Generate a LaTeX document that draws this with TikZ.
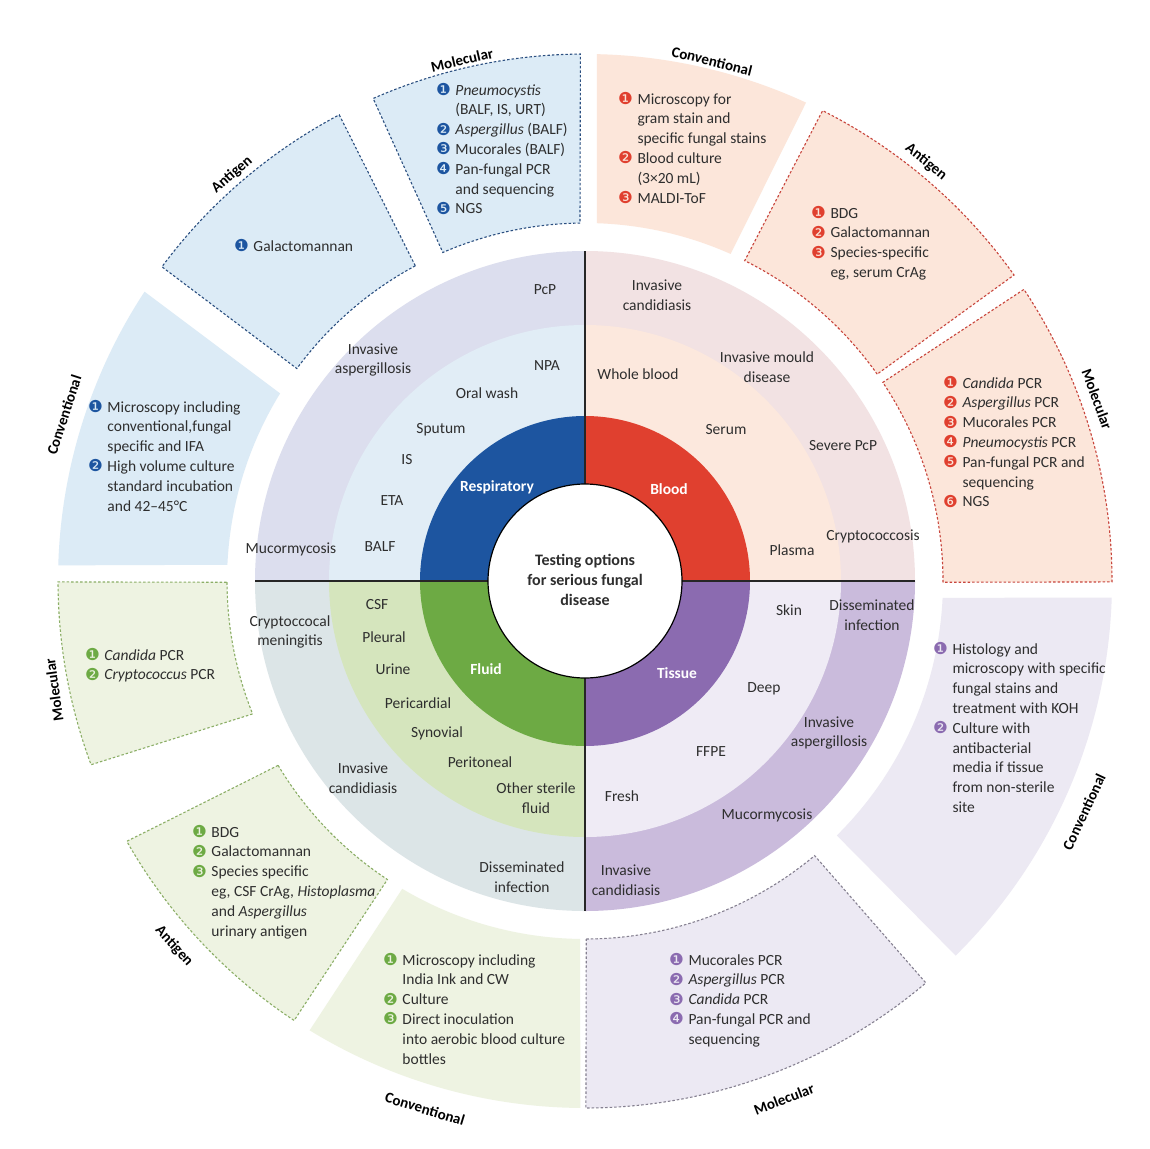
\documentclass[tikz,border=0pt]{standalone}
\usepackage{fontspec}
\setmainfont{Carlito}
\newfontfamily\dejavu{DejaVu Sans}
\definecolor{txt}{HTML}{2E2E2E}
\definecolor{bCore}{HTML}{1D55A0}\definecolor{bMid}{HTML}{E1EDF6}\definecolor{bOut}{HTML}{DCDEEE}\definecolor{bPan}{HTML}{DCEBF6}\definecolor{bDash}{HTML}{2B4F80}
\definecolor{rCore}{HTML}{E0402F}\definecolor{rMid}{HTML}{FCE8DD}\definecolor{rOut}{HTML}{F2E2E3}\definecolor{rPan}{HTML}{FCE6DA}\definecolor{rDash}{HTML}{C8453C}
\definecolor{gCore}{HTML}{6DAA44}\definecolor{gMid}{HTML}{D5E5BD}\definecolor{gOut}{HTML}{DCE5E7}\definecolor{gPan}{HTML}{EEF3E2}\definecolor{gDash}{HTML}{8BAE66}
\definecolor{pCore}{HTML}{8B6BB0}\definecolor{pMid}{HTML}{EFEBF5}\definecolor{pOut}{HTML}{CABBDC}\definecolor{pPan}{HTML}{ECE9F3}\definecolor{pDash}{HTML}{858090}
\newcommand\cn[2]{\textcolor{#1}{\dejavu\fontsize{16.5}{16.5}\selectfont\raisebox{-0.5pt}{#2}}}
\newcommand\pie[4]{\fill[#1] (0,0) -- (#2:#4) arc[start angle=#2, end angle=#3, radius=#4] -- cycle;}
\newcommand\sect[5]{\path[#1] (#2:358) arc[start angle=#2, end angle=#3, radius=358] -- (#5:527) arc[start angle=#5, end angle=#4, radius=527] -- cycle;}
\newcommand\lst[1]{\begin{tabular}[t]{@{}l@{\hspace{4.5pt}}l@{}}#1\end{tabular}}
\begin{document}
\begin{tikzpicture}[x=1pt,y=1pt,
  lbl/.style={font=\fontsize{15.5}{19.8}\selectfont, text=txt, align=center, inner sep=0},
  corelbl/.style={font=\bfseries\fontsize{15.5}{19.8}\selectfont, text=white, inner sep=0},
  ttl/.style={font=\bfseries\fontsize{15}{18}\selectfont, text=black, inner sep=0},
  lstn/.style={font=\fontsize{15.5}{19.8}\selectfont, text=txt, anchor=base west, inner sep=0},
  dashb/.style={draw=#1, line width=1.1pt, dash pattern=on 2.5pt off 2pt},
  divider/.style={draw=black!85, line width=1.6pt}]
\useasboundingbox (0,0) rectangle (1150,-1148);
\fill[white] (0,0) rectangle (1150,-1148);
\begin{scope}[shift={(585,-581)}]
  % outer panels
  \sect{fill=bPan, dashb=bDash}{90.8}{113.4}{90.5}{113.7}
  \sect{fill=bPan, dashb=bDash}{118.3}{143.6}{117.8}{143.4}
  \sect{fill=bPan}{148.4}{177.4}{146.7}{178.3}
  \sect{fill=gPan, dashb=gDash}{180.2}{201.8}{180.1}{200.4}
  \sect{fill=gPan, dashb=gDash}{211}{236.5}{209.6}{236.5}
  \sect{fill=gPan}{239.3}{269.2}{238.5}{269.5}
  \sect{fill=pPan, dashb=pDash}{270.2}{309.9}{270.1}{310.3}
  \sect{fill=pPan}{314.7}{357.3}{314.7}{358.2}
  \sect{fill=rPan, dashb=rDash}{-0.2}{33.7}{-0.1}{33.6}
  \sect{fill=rPan, dashb=rDash}{35.3}{63.5}{35.5}{63.2}
  \sect{fill=rPan}{66}{88.1}{65.2}{88.7}
  % rings
  \pie{bOut}{90}{180}{330}\pie{bMid}{90}{180}{256}\pie{bCore}{90}{180}{165}
  \pie{rOut}{0}{90}{330}\pie{rMid}{0}{90}{256}\pie{rCore}{0}{90}{165}
  \pie{gOut}{180}{270}{330}\pie{gMid}{180}{270}{256}\pie{gCore}{180}{270}{165}
  \pie{pOut}{270}{360}{330}\pie{pMid}{270}{360}{256}\pie{pCore}{270}{360}{165}
  \draw[divider] (0:97) -- (0:330);
  \draw[divider] (90:97) -- (90:330);
  \draw[divider] (180:97) -- (180:330);
  \draw[divider] (270:97) -- (270:330);
  \node[circle, fill=white, draw=black, line width=1.2pt, minimum size=194pt, inner sep=0] (hub) at (0,0) {};
\end{scope}
\node[font=\bfseries\fontsize{16}{20}\selectfont, text=txt, align=center, inner sep=0] (ctr) at (585,-580) {Testing options\\for serious fungal\\disease};
% core labels
\node[corelbl] (cR) at (497,-487) {Respiratory};
\node[corelbl] (cB) at (669,-489) {Blood};
\node[corelbl] (cF) at (486,-669) {Fluid};
\node[corelbl] (cT) at (677,-673) {Tissue};
% blue ring labels
\node[lbl] (b1) at (545,-290) {PcP};
\node[lbl] (b2) at (373,-360) {Invasive\\aspergillosis};
\node[lbl] (b3) at (547,-366) {NPA};
\node[lbl] (b4) at (487,-393) {Oral wash};
\node[lbl] (b5) at (441,-430) {Sputum};
\node[lbl] (b6) at (407,-460) {IS};
\node[lbl] (b7) at (392,-501) {ETA};
\node[lbl] (b8) at (291,-549) {Mucormycosis};
\node[lbl] (b9) at (380,-547) {BALF};
% red ring labels
\node[lbl] (r1) at (657,-295) {Invasive\\candidiasis};
\node[lbl] (r2) at (638,-374) {Whole blood};
\node[lbl] (r3) at (767,-367) {Invasive mould\\disease};
\node[lbl] (r4) at (726,-430) {Serum};
\node[lbl] (r5) at (843,-446) {Severe PcP};
\node[lbl] (r6) at (873,-536) {Cryptococcosis};
\node[lbl] (r7) at (792,-550) {Plasma};
% green ring labels
\node[lbl] (g1) at (377,-605) {CSF};
\node[lbl] (g2) at (290,-632) {Cryptoccocal\\meningitis};
\node[lbl] (g3) at (384,-637) {Pleural};
\node[lbl] (g4) at (393,-669) {Urine};
\node[lbl] (g5) at (418,-703) {Pericardial};
\node[lbl] (g6) at (437,-733) {Synovial};
\node[lbl] (g7) at (480,-762) {Peritoneal};
\node[lbl] (g8) at (363,-778) {Invasive\\candidiasis};
\node[lbl] (g9) at (536,-798) {Other sterile\\fluid};
\node[lbl] (g10) at (522,-877) {Disseminated\\infection};
% purple ring labels
\node[lbl] (p1) at (789,-610) {Skin};
\node[lbl] (p2) at (872,-615) {Disseminated\\infection};
\node[lbl] (p3) at (764,-689) {Deep};
\node[lbl] (p4) at (829,-733) {Invasive\\aspergillosis};
\node[lbl] (p5) at (711,-752) {FFPE};
\node[lbl] (p6) at (622,-796) {Fresh};
\node[lbl] (p7) at (767,-815) {Mucormycosis};
\node[lbl] (p8) at (626,-880) {Invasive\\candidiasis};
% panel titles
\node[ttl, rotate=13] (tBM) at (462,-60) {Molecular};
\node[ttl, rotate=41] (tBA) at (232,-175) {Antigen};
\node[ttl, rotate=72] (tBC) at (64,-415) {Conventional};
\node[ttl, rotate=98] (tGM) at (54,-690) {Molecular};
\node[ttl, rotate=-48] (tGA) at (174,-946) {Antigen};
\node[ttl, rotate=-17] (tGC) at (425,-1109) {Conventional};
\node[ttl, rotate=21] (tPM) at (784,-1099) {Molecular};
\node[ttl, rotate=65] (tPC) at (1084,-812) {Conventional};
\node[ttl, rotate=-70] (tRM) at (1097,-399) {Molecular};
\node[ttl, rotate=-39] (tRA) at (926,-162) {Antigen};
\node[ttl, rotate=-14] (tRC) at (712,-61) {Conventional};
% panel lists
\node[lstn] (lBM) at (436,-95) {\lst{
 \cn{bCore}{❶} & \textit{Pneumocystis}\\
 & (BALF, IS, URT)\\
 \cn{bCore}{❷} & \textit{Aspergillus} (BALF)\\
 \cn{bCore}{❸} & Mucorales (BALF)\\
 \cn{bCore}{❹} & Pan-fungal PCR\\
 & and sequencing\\
 \cn{bCore}{❺} & NGS}};
\node[lstn] (lBA) at (234,-251) {\lst{\cn{bCore}{❶} & Galactomannan}};
\node[lstn] (lBC) at (88,-412) {\lst{
 \cn{bCore}{❶} & Microscopy including\\
 & conventional,fungal\\
 & specific and IFA\\
 \cn{bCore}{❷} & High volume culture\\
 & standard incubation\\
 & and 42–45°C}};
\node[lstn] (lGM) at (85,-660) {\lst{
 \cn{gCore}{❶} & \textit{Candida} PCR\\
 \cn{gCore}{❷} & \textit{Cryptococcus} PCR}};
\node[lstn] (lGA) at (192,-837) {\lst{
 \cn{gCore}{❶} & BDG\\
 \cn{gCore}{❷} & Galactomannan\\
 \cn{gCore}{❸} & Species specific\\
 & eg, CSF CrAg, \textit{Histoplasma}\\
 & and \textit{Aspergillus}\\
 & urinary antigen}};
\node[lstn] (lGC) at (383,-965) {\lst{
 \cn{gCore}{❶} & Microscopy including\\
 & India Ink and CW\\
 \cn{gCore}{❷} & Culture\\
 \cn{gCore}{❸} & Direct inoculation\\
 & into aerobic blood culture\\
 & bottles}};
\node[lstn] (lPM) at (669,-965) {\lst{
 \cn{pCore}{❶} & Mucorales PCR\\
 \cn{pCore}{❷} & \textit{Aspergillus} PCR\\
 \cn{pCore}{❸} & \textit{Candida} PCR\\
 \cn{pCore}{❹} & Pan-fungal PCR and\\
 & sequencing}};
\node[lstn] (lPC) at (933,-654) {\lst{
 \cn{pCore}{❶} & Histology and\\
 & microscopy with specific\\
 & fungal stains and\\
 & treatment with KOH\\
 \cn{pCore}{❷} & Culture with\\
 & antibacterial\\
 & media if tissue\\
 & from non-sterile\\
 & site}};
\node[lstn] (lRM) at (943,-388) {\lst{
 \cn{rCore}{❶} & \textit{Candida} PCR\\
 \cn{rCore}{❷} & \textit{Aspergillus} PCR\\
 \cn{rCore}{❸} & Mucorales PCR\\
 \cn{rCore}{❹} & \textit{Pneumocystis} PCR\\
 \cn{rCore}{❺} & Pan-fungal PCR and\\
 & sequencing\\
 \cn{rCore}{❻} & NGS}};
\node[lstn] (lRA) at (811,-218) {\lst{
 \cn{rCore}{❶} & BDG\\
 \cn{rCore}{❷} & Galactomannan\\
 \cn{rCore}{❸} & Species-specific\\
 & eg, serum CrAg}};
\node[lstn] (lRC) at (618,-104) {\lst{
 \cn{rCore}{❶} & Microscopy for\\
 & gram stain and\\
 & specific fungal stains\\
 \cn{rCore}{❷} & Blood culture\\
 & (3×20 mL)\\
 \cn{rCore}{❸} & MALDI-ToF}};
\end{tikzpicture}
\end{document}
